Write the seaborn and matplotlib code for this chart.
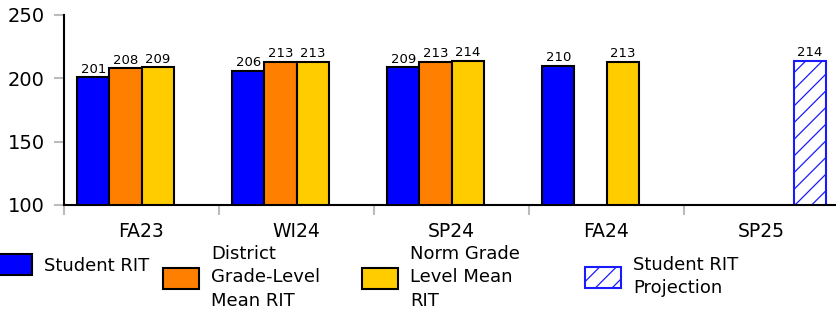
import pandas as pd
import seaborn as sns
import matplotlib.pyplot as plt
from matplotlib.patches import Patch

# values
terms = ["FA23", "WI24", "SP24", "FA24", "SP25"]
series = ["Student RIT", "District Grade-Level Mean RIT", "Norm Grade Level Mean RIT", "Student RIT Projection"]
student_rit = [201, 206, 209, 210, None]
district_mean = [208, 213, 213, None, None]
norm_mean = [209, 213, 214, 213, None]
projection = [None, None, None, None, 214]

legend_labels = ["Student RIT", "District\nGrade-Level\nMean RIT", "Norm Grade\nLevel Mean\nRIT", "Student RIT\nProjection"]
colors = {series[0]: "#0000ff", series[1]: "#ff8000", series[2]: "#ffcc00", series[3]: "white"}
proj_edge = "#1a1aff"

# build a long-form table, dropping missing values
rows = []
for name, values in zip(series, [student_rit, district_mean, norm_mean, projection]):
    for term, val in zip(terms, values):
        if val is not None:
            rows.append({"term": term, "series": name, "value": val})
df = pd.DataFrame(rows)

sns.set_style("white")
plt.rcParams["font.family"] = ["DejaVu Sans"]
plt.rcParams["text.color"] = "black"
plt.rcParams["xtick.labelcolor"] = "black"
plt.rcParams["ytick.labelcolor"] = "black"
plt.rcParams["hatch.linewidth"] = 0.9

fig = plt.figure(figsize=(8.36, 3.10), dpi=100)
ax = fig.add_axes([64 / 836, 105 / 310, 775 / 836, 190 / 310])

sns.barplot(data=df, x="term", y="value", hue="series", order=terms, hue_order=series,
            palette=colors, saturation=1, width=0.826, edgecolor="black", linewidth=1.5,
            ax=ax, legend=False)

# projection bar: hatched with blue outline
for patch in ax.containers[3]:
    patch.set_edgecolor(proj_edge)
    patch.set_hatch("//")
    patch.set_linewidth(1.5)

for container in ax.containers:
    ax.bar_label(container, fontsize=9.5, padding=1)

ax.set_ylim(100, 250)
ax.set_xlim(-0.5, 4.5)
ax.set_yticks([100, 150, 200, 250])
ax.set_xlabel("")
ax.set_ylabel("")

# major ticks at group boundaries, labels at group centres
ax.set_xticks([-0.5, 0.5, 1.5, 2.5, 3.5])
ax.set_xticklabels([])
ax.set_xticks(range(len(terms)), minor=True)
ax.set_xticklabels(terms, minor=True)
ax.tick_params(axis="x", which="major", bottom=True, length=7, color="#bbbbbb", width=1.5)
ax.tick_params(axis="x", which="minor", bottom=True, length=0, pad=12, labelsize=13.5)
ax.tick_params(axis="y", left=True, length=7, color="#bbbbbb", width=1.5, pad=7, labelsize=14)

for side in ["top", "right"]:
    ax.spines[side].set_visible(False)
for side in ["left", "bottom"]:
    ax.spines[side].set_color("black")
    ax.spines[side].set_linewidth(1.5)

handles = [Patch(facecolor=colors[s], edgecolor="black", linewidth=1.5) for s in series[:3]]
handles.append(Patch(facecolor="white", edgecolor=proj_edge, hatch="//", linewidth=1.5))

# one legend per entry so each sits where it does in the original
anchors = [(-4, 264.5), (163, 277.5), (362, 277.5), (585, 276.5)]
for handle, label, (px, py) in zip(handles, legend_labels, anchors):
    leg = fig.legend([handle], [label], loc="center left",
                     bbox_to_anchor=(px / 836, 1 - py / 310), frameon=False, fontsize=13,
                     handlelength=2.0, handleheight=1.35, handletextpad=0.65,
                     borderpad=0, borderaxespad=0)
    for t in leg.get_texts():
        t.set_linespacing(1.4)

fig.savefig("out.png", dpi=100)
